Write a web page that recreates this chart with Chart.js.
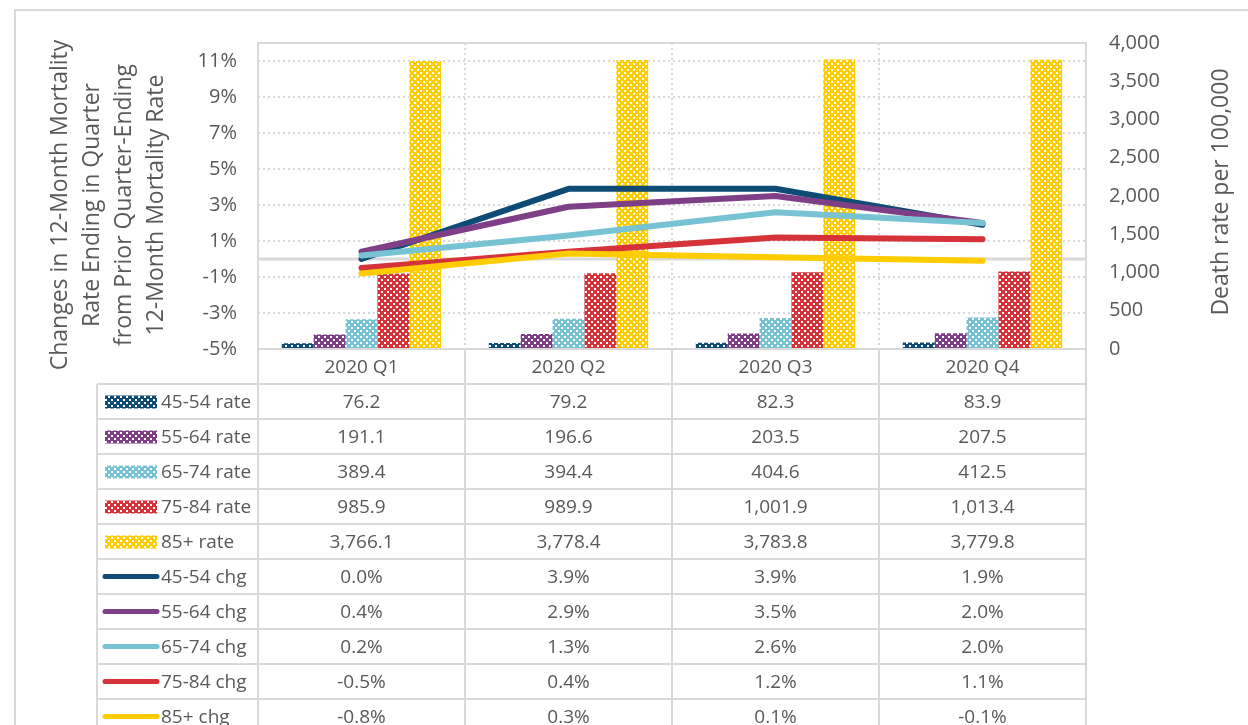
<!DOCTYPE html>
<html>
<head>
<meta charset="utf-8">
<script src="https://cdn.jsdelivr.net/npm/chart.js@4.4.1/dist/chart.umd.min.js"></script>
<style>
  body { margin: 0; background: #fff; }
</style>
</head>
<body>
<canvas id="chart" width="1248" height="725"></canvas>
<script>
const categories = ["2020 Q1", "2020 Q2", "2020 Q3", "2020 Q4"];

const rate4554 = [76.2, 79.2, 82.3, 83.9];
const rate5564 = [191.1, 196.6, 203.5, 207.5];
const rate6574 = [389.4, 394.4, 404.6, 412.5];
const rate7584 = [985.9, 989.9, 1001.9, 1013.4];
const rate85 = [3766.1, 3778.4, 3783.8, 3779.8];

const chg4554 = [0.0, 3.9, 3.9, 1.9];
const chg5564 = [0.4, 2.9, 3.5, 2.0];
const chg6574 = [0.2, 1.3, 2.6, 2.0];
const chg7584 = [-0.5, 0.4, 1.2, 1.1];
const chg85 = [-0.8, 0.3, 0.1, -0.1];

const leftTicks = [-5, -3, -1, 1, 3, 5, 7, 9, 11];
const rightTicks = [0, 500, 1000, 1500, 2000, 2500, 3000, 3500, 4000];

const leftTitle = [
    "Changes in 12-Month Mortality",
    "Rate Ending in Quarter",
    "from Prior Quarter-Ending",
    "12-Month Mortality Rate",
];
const rightTitle = "Death rate per 100,000";

const colors = ["#0f4c75", "#7e3f87", "#77c3d4", "#d5323a", "#ffcc00"];
const grey = "#d9d9d9";
const textColor = "#595959";
const fontFamily = "'Open Sans', sans-serif";

// checkered fill like the Excel pattern
function makePattern(color) {
    const c = document.createElement("canvas");
    c.width = 6;
    c.height = 6;
    const g = c.getContext("2d");
    g.fillStyle = color;
    g.fillRect(0, 0, 6, 6);
    g.fillStyle = "#ffffff";
    g.fillRect(0, 0, 2, 2);
    g.fillRect(3, 3, 2, 2);
    return g.createPattern(c, "repeat");
}

const rateSeries = [
    { label: "45-54 rate", data: rate4554 },
    { label: "55-64 rate", data: rate5564 },
    { label: "65-74 rate", data: rate6574 },
    { label: "75-84 rate", data: rate7584 },
    { label: "85+ rate", data: rate85 },
];
const chgSeries = [
    { label: "45-54 chg", data: chg4554 },
    { label: "55-64 chg", data: chg5564 },
    { label: "65-74 chg", data: chg6574 },
    { label: "75-84 chg", data: chg7584 },
    { label: "85+ chg", data: chg85 },
];

const patterns = colors.map(makePattern);

const datasets = [];
rateSeries.forEach((s, i) => {
    datasets.push({
        type: "bar",
        label: s.label,
        data: s.data,
        yAxisID: "y2",
        backgroundColor: patterns[i],
        borderWidth: 0,
        categoryPercentage: 0.77,
        barPercentage: 1,
        order: 20,
    });
});
chgSeries.forEach((s, i) => {
    datasets.push({
        type: "line",
        label: s.label,
        data: s.data,
        yAxisID: "y",
        borderColor: colors[i],
        backgroundColor: colors[i],
        borderWidth: 6,
        borderCapStyle: "round",
        borderJoinStyle: "round",
        pointRadius: 0,
        tension: 0,
        order: 10 - i,
    });
});

// frame, zero line, axis titles and the data table below the plot
const tablePlugin = {
    id: "tablePlugin",
    beforeDatasetsDraw(chart) {
        const { ctx, chartArea, scales } = chart;
        const y0 = scales.y.getPixelForValue(0);
        ctx.save();
        ctx.strokeStyle = grey;
        ctx.lineWidth = 3;
        ctx.beginPath();
        ctx.moveTo(chartArea.left, y0);
        ctx.lineTo(chartArea.right, y0);
        ctx.stroke();
        ctx.restore();
    },
    afterDraw(chart) {
        const { ctx, chartArea, scales } = chart;
        const x = scales.x;
        const rowH = 35;
        const top = chartArea.bottom;
        const tableLeft = 97;
        const nRows = rateSeries.length + chgSeries.length;
        const bottom = top + rowH * (nRows + 1);

        ctx.save();
        // outer chart border
        ctx.strokeStyle = grey;
        ctx.lineWidth = 2;
        ctx.strokeRect(15, 10, 1300, 800);

        // plot frame
        ctx.beginPath();
        ctx.moveTo(chartArea.left, chartArea.bottom);
        ctx.lineTo(chartArea.left, chartArea.top);
        ctx.lineTo(chartArea.right, chartArea.top);
        ctx.lineTo(chartArea.right, chartArea.bottom);
        ctx.stroke();

        // axis titles (both read bottom to top)
        ctx.fillStyle = textColor;
        ctx.font = "23px " + fontFamily;
        ctx.textAlign = "center";
        ctx.textBaseline = "middle";
        leftTitle.forEach((line, i) => {
            ctx.save();
            ctx.translate(60 + i * 32.3, 205);
            ctx.rotate(-Math.PI / 2);
            ctx.fillText(line, 0, 0);
            ctx.restore();
        });
        ctx.save();
        ctx.translate(1221, 192);
        ctx.rotate(-Math.PI / 2);
        ctx.fillText(rightTitle, 0, 0);
        ctx.restore();

        // table grid
        const catW = x.getPixelForValue(1) - x.getPixelForValue(0);
        const edges = [chartArea.left];
        for (let i = 0; i < categories.length; i++) edges.push(x.getPixelForValue(i) + catW / 2);

        ctx.beginPath();
        ctx.moveTo(chartArea.left, top);
        ctx.lineTo(chartArea.right, top);
        for (let r = 1; r <= nRows + 1; r++) {
            ctx.moveTo(tableLeft, top + r * rowH);
            ctx.lineTo(chartArea.right, top + r * rowH);
        }
        ctx.moveTo(tableLeft, top + rowH);
        ctx.lineTo(tableLeft, bottom);
        edges.forEach((ex) => {
            ctx.moveTo(ex, top);
            ctx.lineTo(ex, bottom);
        });
        ctx.stroke();

        ctx.fillStyle = textColor;
        ctx.font = "19px " + fontFamily;
        ctx.textBaseline = "middle";
        ctx.textAlign = "center";
        categories.forEach((c, i) => {
            ctx.fillText(c, x.getPixelForValue(i), top + rowH / 2 + 1);
        });

        const fmtRate = (v) => v.toLocaleString("en-US", { minimumFractionDigits: 1, maximumFractionDigits: 1 });
        const fmtChg = (v) => v.toFixed(1) + "%";

        const rows = rateSeries.map((s, i) => ({ s, i, kind: "rate" }))
            .concat(chgSeries.map((s, i) => ({ s, i, kind: "chg" })));
        rows.forEach((row, r) => {
            const cy = top + rowH * (r + 1) + rowH / 2 + 1;
            if (row.kind === "rate") {
                ctx.fillStyle = patterns[row.i];
                ctx.fillRect(105, cy - 7, 52, 13);
            } else {
                ctx.strokeStyle = colors[row.i];
                ctx.lineWidth = 5;
                ctx.lineCap = "round";
                ctx.beginPath();
                ctx.moveTo(105, cy - 1);
                ctx.lineTo(157, cy - 1);
                ctx.stroke();
            }
            ctx.fillStyle = textColor;
            ctx.textAlign = "left";
            ctx.fillText(row.s.label, 161, cy);
            ctx.textAlign = "center";
            row.s.data.forEach((v, i) => {
                ctx.fillText(row.kind === "rate" ? fmtRate(v) : fmtChg(v), x.getPixelForValue(i), cy);
            });
        });
        ctx.restore();
    },
};

new Chart(document.getElementById("chart"), {
    data: {
        labels: categories,
        datasets: datasets,
    },
    options: {
        responsive: false,
        animation: false,
        layout: {
            padding: { top: 43, bottom: 376, left: 0, right: 0 },
        },
        plugins: {
            legend: { display: false },
            tooltip: { enabled: false },
        },
        scales: {
            x: {
                offset: true,
                ticks: { display: false },
                grid: {
                    offset: true,
                    drawTicks: false,
                    color: grey,
                    lineWidth: 2,
                },
                border: { display: false, dash: [2, 3] },
                afterFit: (scale) => { scale.height = 0; },
            },
            y: {
                position: "left",
                min: -5,
                max: 12,
                afterBuildTicks: (scale) => {
                    scale.ticks = leftTicks.map((v) => ({ value: v }));
                },
                ticks: {
                    color: textColor,
                    font: { size: 20, family: fontFamily },
                    padding: 21,
                    callback: (v) => v + "%",
                },
                grid: {
                    drawTicks: false,
                    lineWidth: 2,
                    color: (c) => (c.tick && c.tick.value === -5 ? "rgba(0,0,0,0)" : grey),
                },
                border: { display: false, dash: [2, 3] },
                afterFit: (scale) => { scale.width = 258; },
            },
            y2: {
                position: "right",
                min: 0,
                max: 4000,
                afterBuildTicks: (scale) => {
                    scale.ticks = rightTicks.map((v) => ({ value: v }));
                },
                ticks: {
                    color: textColor,
                    font: { size: 20, family: fontFamily },
                    padding: 23,
                    callback: (v) => v.toLocaleString("en-US"),
                },
                grid: { drawOnChartArea: false, drawTicks: false },
                border: { display: false },
                afterFit: (scale) => { scale.width = 162; },
            },
        },
    },
    plugins: [tablePlugin],
});
</script>
</body>
</html>
